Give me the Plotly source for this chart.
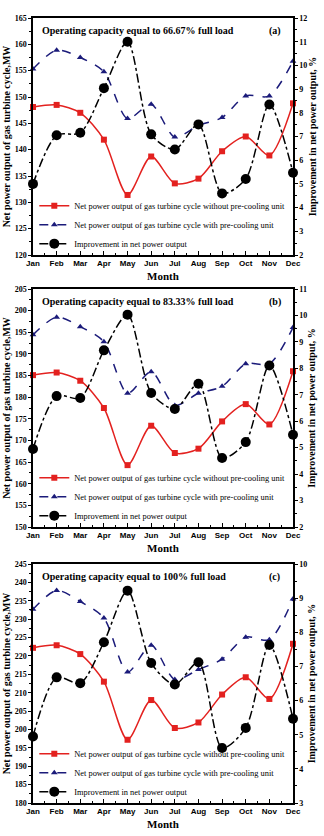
import plotly.graph_objects as go

months = ["Jan", "Feb", "Mar", "Apr", "May", "Jun", "Jul", "Aug", "Sep", "Oct", "Nov", "Dec"]

# Panel (a) 66.67% load
a_without = [148.1, 148.5, 147.0, 141.9, 131.4, 138.7, 133.6, 134.5, 139.7, 142.5, 138.9, 148.8]
a_with = [155.3, 158.9, 157.5, 154.8, 145.9, 148.6, 142.4, 144.6, 146.1, 150.2, 150.2, 156.8]
a_impr = [5.0, 7.05, 7.16, 9.04, 11.0, 7.09, 6.45, 7.51, 4.6, 5.21, 8.35, 5.47]

# Panel (b) 83.33% load
b_without = [185.1, 185.7, 183.8, 177.5, 164.3, 173.4, 167.1, 168.1, 174.4, 178.4, 173.7, 186.0]
b_with = [194.4, 198.5, 196.3, 192.8, 180.9, 185.9, 178.1, 180.9, 182.5, 187.7, 187.7, 196.1]
b_impr = [4.95, 6.95, 6.88, 8.68, 10.03, 7.07, 6.46, 7.42, 4.61, 5.21, 8.11, 5.49]

# Panel (c) 100% load
c_without = [222.2, 222.9, 220.5, 213.0, 197.2, 208.0, 200.4, 201.9, 209.5, 214.2, 208.3, 223.3]
c_with = [232.7, 237.8, 234.8, 230.3, 215.6, 222.9, 213.6, 216.3, 219.1, 225.1, 224.4, 235.5]
c_impr = [4.95, 6.68, 6.51, 7.71, 9.22, 7.1, 6.47, 7.12, 4.61, 5.2, 7.63, 5.47]

titles = ["Operating capacity equal to 66.67% full load",
          "Operating capacity equal to 83.33% full load",
          "Operating capacity equal to 100% full load"]
labels = ["(a)", "(b)", "(c)"]
left_ranges = [(120, 165), (150, 205), (180, 245)]
right_ranges = [(2, 12), (2, 11), (3, 10)]

names = ["Net power output of gas turbine cycle without pre-cooling unit",
         "Net power output of gas turbine cycle with pre-cooling unit",
         "Improvement in net power output"]

W, H = 324, 836
ML, MR, MT, MB = 33, 31, 18, 33
PH = H - MT - MB
# pixel top/bottom of each panel
panels_px = [(18, 255), (289, 527), (564, 803)]
domains = [((H - MB - b) / PH, (H - MB - t) / PH) for t, b in panels_px]

FONT = "Liberation Serif"
SANS = "Liberation Sans"
RED = "#e3211f"
BLUE = "#1b1b7a"
BLACK = "#000000"

fig = go.Figure()
x = list(range(12))
data = [(a_without, a_with, a_impr), (b_without, b_with, b_impr), (c_without, c_with, c_impr)]

for i, (wo, wi, im) in enumerate(data):
    xa = "x" if i == 0 else f"x{i+1}"
    yl = "y" if i == 0 else f"y{2*i+1}"
    yr = f"y{2*i+2}"
    lg = "legend" if i == 0 else f"legend{i+1}"
    fig.add_trace(go.Scatter(x=x, y=wo, name=names[0], xaxis=xa, yaxis=yl, legend=lg,
                             mode="lines+markers", line=dict(color=RED, width=1.5, shape="spline", smoothing=0.8),
                             marker=dict(symbol="square", size=6, color=RED), cliponaxis=False))
    fig.add_trace(go.Scatter(x=x, y=wi, name=names[1], xaxis=xa, yaxis=yl, legend=lg,
                             mode="lines+markers", line=dict(color=BLUE, width=1.5, dash="dash", shape="spline", smoothing=0.8),
                             marker=dict(symbol="triangle-up", size=6, color=BLUE), cliponaxis=False))
    fig.add_trace(go.Scatter(x=x, y=im, name=names[2], xaxis=xa, yaxis=yr, legend=lg,
                             mode="lines+markers", line=dict(color=BLACK, width=1.5, dash="dashdot", shape="spline", smoothing=0.8),
                             marker=dict(symbol="circle", size=10, color=BLACK), cliponaxis=False))

layout = dict(width=W, height=H, margin=dict(l=ML, r=MR, t=MT, b=MB),
              paper_bgcolor="white", plot_bgcolor="white", showlegend=True,
              font=dict(family=FONT, color="black"))

tickfont = dict(family=FONT, size=8, color="black", weight="bold")
monthfont = dict(family=SANS, size=8, color="black", weight="bold")
titlefont = dict(family=FONT, size=10, color="black", weight="bold")

annotations = []
for i in range(3):
    xk = "xaxis" if i == 0 else f"xaxis{i+1}"
    ylk = "yaxis" if i == 0 else f"yaxis{2*i+1}"
    yrk = f"yaxis{2*i+2}"
    yl = "y" if i == 0 else f"y{2*i+1}"
    xa = "x" if i == 0 else f"x{i+1}"
    d = domains[i]
    layout[xk] = dict(domain=[0, 1], anchor=yl, range=[0, 11], tickmode="array",
                      tickvals=x, ticktext=months, showline=True, linecolor="black", linewidth=1.5,
                      mirror=True, ticks="inside", ticklen=4, tickwidth=1, tickcolor="black",
                      minor=dict(ticks="inside", ticklen=2, dtick=0.5, tick0=0, tickcolor="black"),
                      showgrid=False, zeroline=False, tickfont=monthfont,
                      title=dict(text="Month", font=dict(family=FONT, size=11, color="black", weight="bold"), standoff=5),
                      automargin=False)
    lo, hi = left_ranges[i]
    layout[ylk] = dict(domain=list(d), anchor=xa, range=[lo, hi], dtick=5, tick0=lo,
                       showline=True, linecolor="black", linewidth=1.5, ticks="outside", ticklen=3,
                       tickcolor="black", minor=dict(ticks="outside", ticklen=2, dtick=2.5, tickcolor="black"),
                       showgrid=False, zeroline=False, tickfont=tickfont,
                       title=dict(text="Net power output of gas turbine cycle,MW", font=titlefont, standoff=2),
                       automargin=False)
    rlo, rhi = right_ranges[i]
    layout[yrk] = dict(overlaying=yl, side="right", anchor=xa, range=[rlo, rhi], dtick=1, tick0=rlo,
                       showline=True, linecolor="black", linewidth=1.5, ticks="outside", ticklen=3,
                       tickcolor="black", minor=dict(ticks="outside", ticklen=2, dtick=0.5, tickcolor="black"),
                       showgrid=False, zeroline=False, tickfont=tickfont,
                       title=dict(text="Improvement in net power output, %", font=titlefont, standoff=2),
                       automargin=False)
    lgk = "legend" if i == 0 else f"legend{i+1}"
    layout[lgk] = dict(x=0.005, y=d[0] - 0.004, xanchor="left", yanchor="bottom",
                       bgcolor="rgba(255,255,255,0)", borderwidth=0, tracegroupgap=0,
                       itemwidth=30, font=dict(family=FONT, size=8.4, color="black"))
    annotations.append(dict(text=titles[i], xref="paper", yref="paper", x=0.025, y=d[1] - 0.006,
                            xanchor="left", yanchor="top", showarrow=False,
                            font=dict(family=FONT, size=10, color="black", weight="bold")))
    annotations.append(dict(text=labels[i], xref="paper", yref="paper", x=0.93, y=d[1] - 0.006,
                            xanchor="center", yanchor="top", showarrow=False,
                            font=dict(family=FONT, size=10, color="black", weight="bold")))

layout["annotations"] = annotations
fig.update_layout(**layout)
fig.write_html("out.html")
